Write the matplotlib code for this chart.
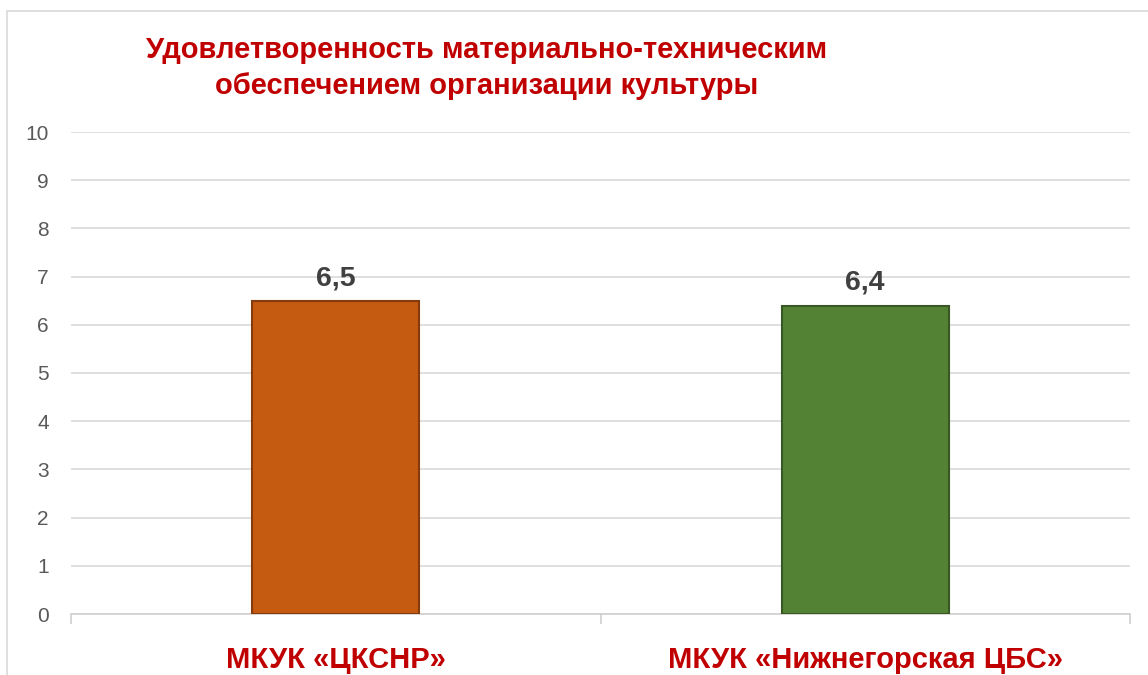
import numpy as np
import matplotlib.pyplot as plt
from matplotlib.patches import Rectangle

plt.rcParams['font.family'] = ['Liberation Sans', 'DejaVu Sans']

categories = ["МКУК «ЦКСНР»", "МКУК «Нижнегорская ЦБС»"]
values = [6.5, 6.4]
value_labels = ["6,5", "6,4"]
bar_colors = ["#C55A11", "#548235"]
edge_colors = ["#843C0C", "#385723"]
title = "Удовлетворенность материально-техническим\nобеспечением организации культуры"

W, H = 1148, 675
fig = plt.figure(figsize=(W / 100, H / 100), dpi=100)
ax = fig.add_axes([71 / W, 1 - 614 / H, (1130 - 71) / W, (614 - 132) / H])

x = np.arange(len(categories))
ax.bar(x, values, width=0.315, color=bar_colors, edgecolor=edge_colors, linewidth=1.5, zorder=3)
for xi, v, lab in zip(x, values, value_labels):
    ax.text(xi, v + 0.2, lab, ha="center", va="bottom", fontsize=20.5,
            fontweight="bold", color="#404040")

ax.set_xlim(-0.5, len(categories) - 0.5)
ax.set_ylim(0, 10)
ax.set_yticks(range(0, 11))
ax.yaxis.grid(True, color="#D9D9D9", linewidth=1.2, zorder=0)
ax.tick_params(axis="y", length=0, labelsize=15, labelcolor="#595959", pad=16)
for s in ["top", "right", "left"]:
    ax.spines[s].set_visible(False)
ax.spines["bottom"].set_color("#D0D0D0")
ax.spines["bottom"].set_linewidth(1.2)

# category boundary ticks
ax.set_xticks([-0.5, 0.5, 1.5], minor=True)
ax.tick_params(axis="x", which="minor", length=7, color="#D0D0D0", width=1.2)
ax.set_xticks(x)
ax.set_xticklabels(categories, fontsize=21, fontweight="bold", color="#C00000")
ax.tick_params(axis="x", which="major", length=0, pad=23)

fig.text(487 / W, 1 - 68 / H, title, ha="center", va="center", fontsize=21,
         fontweight="bold", color="#C00000", linespacing=1.32)

fig.patches.append(Rectangle((7 / W, -0.1), 1.2, 1 - 11 / H + 0.1, transform=fig.transFigure,
                             fill=False, edgecolor="#D9D9D9", linewidth=1.2))

fig.savefig("out.png", dpi=100)
